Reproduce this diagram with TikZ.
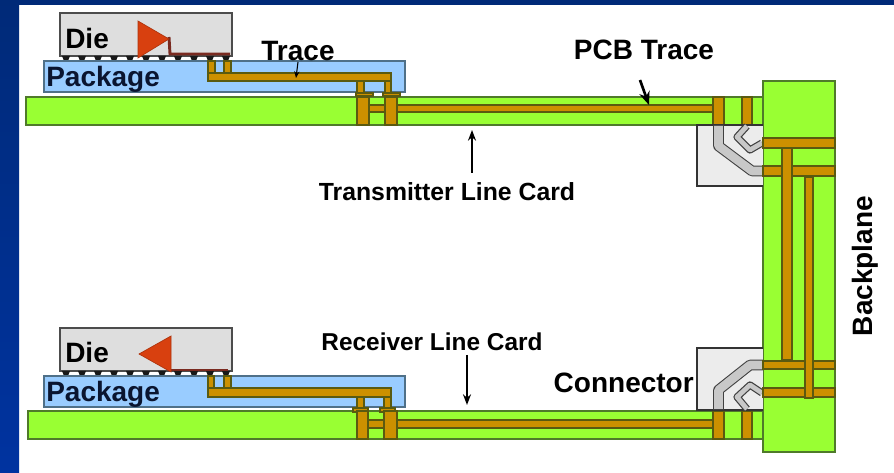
\documentclass[tikz,border=0pt]{standalone}
\usepackage{fontspec}
\setmainfont{Liberation Sans}
\usetikzlibrary{arrows.meta}
\definecolor{slidetop}{HTML}{002A78}
\definecolor{slidebot}{HTML}{0033A0}
\definecolor{cardgreen}{HTML}{99FF33}
\definecolor{cardedge}{HTML}{4F7A2A}
\definecolor{copper}{HTML}{CC9000}
\definecolor{copperedge}{HTML}{5A5A10}
\definecolor{pkgblue}{HTML}{99CCFF}
\definecolor{pkgedge}{HTML}{4F7088}
\definecolor{diegrey}{HTML}{DEDEDE}
\definecolor{connfill}{HTML}{ECECEC}
\definecolor{pinfill}{HTML}{C8C8C8}
\definecolor{ampred}{HTML}{D8400F}
\definecolor{wirered}{HTML}{7A2A20}
\definecolor{inkblue}{HTML}{0A1530}
\begin{document}
\begin{tikzpicture}[
    x=0.75pt, y=-0.75pt,
    card/.style={draw=cardedge, fill=cardgreen, line width=1pt},
    pkg/.style={draw=pkgedge, fill=pkgblue, line width=0.8pt},
    diebox/.style={draw=black!70, fill=diegrey, line width=0.8pt},
    conn/.style={draw=black!80, fill=connfill, line width=1.3pt},
    cu/.style={draw=copperedge, fill=copper, line width=0.8pt},
    amp/.style={draw=ampred!80!black, fill=ampred, line width=0.5pt},
    wire/.style={draw=wirered, line width=2.2pt},
    lbl/.style={inner sep=0pt, font=\fontsize{21}{25}\selectfont\bfseries},
    caplbl/.style={inner sep=0pt, font=\fontsize{18.6}{23}\selectfont\bfseries},
    arr/.style={-{Stealth[length=8pt, width=6pt]}, line width=1.3pt}
  ]
  \useasboundingbox (0,0) rectangle (894,473);
  % Slide frame
  \fill[white] (0,0) rectangle (894,473);
  \shade[top color=slidetop, bottom color=slidebot] (0,0) rectangle (19,473);
  \fill[slidetop] (0,0) rectangle (894,5);

  % Backplane and cards
  \draw[card] (26,97) rectangle (763,125);
  \draw[card] (28,411) rectangle (763,439);
  \draw[card] (763,81) rectangle (835,452);

  % Transmitter side
  \draw[diebox] (60,13) rectangle (232,56);
  \foreach \bx in {66,82,...,226}
    \fill[black!90] (\bx-4,56) -- (\bx+4,56) -- (\bx+2,61) -- (\bx-2,61) -- cycle;
  \draw[pkg] (44,61) rectangle (405,92);
  \draw[cu] (208,61) rectangle (215,73);
  \draw[cu] (224,61) rectangle (231,73);
  \draw[cu] (208,73) rectangle (391,81);
  \draw[cu] (357,81) rectangle (364,93);
  \draw[cu] (385,81) rectangle (391,93);
  \draw[cu] (356,93) rectangle (373,96);
  \draw[cu] (383,93) rectangle (400,96);
  \draw[wire] (169,37) -- (170,54) -- (230,54);
  \draw[amp] (138,21) -- (169,39) -- (138,58) -- cycle;
  \draw[cu] (369,105) rectangle (713,112);
  \draw[cu] (357,97) rectangle (369,125);
  \draw[cu] (385,97) rectangle (397,125);
  \draw[cu] (713,97) rectangle (724,125);
  \draw[cu] (742,97) rectangle (752,125);

  % Receiver side
  \draw[diebox] (60,328) rectangle (232,371);
  \foreach \bx in {66,82,...,226}
    \fill[black!90] (\bx-4,371) -- (\bx+4,371) -- (\bx+2,376) -- (\bx-2,376) -- cycle;
  \draw[pkg] (44,376) rectangle (405,407);
  \draw[cu] (208,376) rectangle (214,388);
  \draw[cu] (224,376) rectangle (231,388);
  \draw[cu] (208,388) rectangle (391,397);
  \draw[cu] (357,397) rectangle (364,408);
  \draw[cu] (384,397) rectangle (391,408);
  \draw[cu] (353,408) rectangle (368,412);
  \draw[cu] (380,408) rectangle (395,412);
  \draw[wire] (171,370) -- (228,370);
  \draw[amp] (139,354) -- (171,336) -- (171,372) -- cycle;
  \draw[cu] (368,420) rectangle (713,428);
  \draw[cu] (357,411) rectangle (368,439);
  \draw[cu] (384,411) rectangle (397,439);
  \draw[cu] (713,411) rectangle (724,439);
  \draw[cu] (742,411) rectangle (752,439);

  % Connectors
  \draw[conn] (763,125) -- (697,125) -- (697,186) -- (763,186);
  \draw[conn] (763,348) -- (697,348) -- (697,410) -- (763,410);
  \draw[black!75, line width=8pt, line join=round] (718.5,125) -- (718.5,146) -- (752,171) -- (763,171);
  \draw[pinfill, line width=6.4pt, line join=round] (718.5,126) -- (718.5,146) -- (752,171) -- (762,171);
  \draw[black!75, line width=5.4pt, line join=round] (747,126) -- (737,137) -- (750,150) -- (762,143);
  \draw[pinfill, line width=3.6pt, line join=round] (747,126) -- (737,137) -- (750,150) -- (762,143);
  \draw[black!75, line width=8pt, line join=round] (718.5,410) -- (718.5,390) -- (750,365) -- (763,365);
  \draw[pinfill, line width=6.4pt, line join=round] (718.5,409) -- (718.5,390) -- (750,365) -- (762,365);
  \draw[black!75, line width=5.4pt, line join=round] (747,409) -- (737,397) -- (750,385) -- (762,393);
  \draw[pinfill, line width=3.6pt, line join=round] (747,409) -- (737,397) -- (750,385) -- (762,393);

  % Backplane traces
  \draw[cu] (763,138) rectangle (835,148);
  \draw[cu] (763,166) rectangle (835,176);
  \draw[cu] (763,361) rectangle (835,369);
  \draw[cu] (763,388) rectangle (835,397);
  \draw[cu] (782,148) rectangle (792,360);
  \draw[cu] (805,177) rectangle (813,398);

  % Labels
  \node[lbl, anchor=west] (dietx) at (65,38) {Die};
  \node[lbl, anchor=west, text=inkblue] (pkgtx) at (46,79) {Package};
  \node[lbl] (tracelbl) at (298,51) {Trace};
  \node[lbl] (pcblbl) at (644,50) {PCB Trace};
  \node[caplbl] (txlbl) at (447,192) {Transmitter Line Card};
  \node[lbl, anchor=west] (dierx) at (65,352) {Die};
  \node[lbl, anchor=west, text=inkblue] (pkgrx) at (46,394) {Package};
  \node[caplbl, font=\fontsize{18.3}{22}\selectfont\bfseries] (rxlbl) at (432,342) {Receiver Line Card};
  \node[lbl, anchor=east] (connlbl) at (694,383) {Connector};
  \node[lbl, rotate=90] (bplbl) at (865,266) {Backplane};

  \coordinate (tracetail) at (298,62);
  \coordinate (tracetip) at (296,78);
  \coordinate (pcbtail) at (640,80);
  \coordinate (pcbtip) at (649,105);
  \coordinate (txtail) at (472,173);
  \coordinate (txtip) at (472,130);
  \coordinate (rxtail) at (467,355);
  \coordinate (rxtip) at (467,405);
  \draw[arr, -{Stealth[length=5pt, width=4pt]}, line width=0.8pt] (tracetail) -- (tracetip);
  \draw[arr, -{Stealth[length=10pt, width=8pt]}, line width=2pt] (pcbtail) -- (pcbtip);
  \draw[arr] (txtail) -- (txtip);
  \draw[arr] (rxtail) -- (rxtip);
\end{tikzpicture}
\end{document}
